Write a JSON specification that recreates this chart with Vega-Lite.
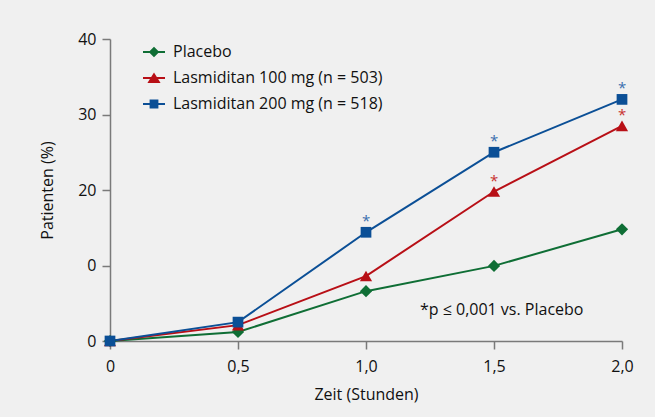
{
  "$schema": "https://vega.github.io/schema/vega-lite/v6.json",
  "width": 512,
  "height": 302,
  "autosize": {"type": "none"},
  "padding": {"left": 110, "top": 39, "right": 33, "bottom": 76},
  "background": "#f0f0f0",
  "config": {
    "view": {"stroke": null},
    "font": "Open Sans",
    "axis": {
      "domainColor": "#7a7a7a",
      "domainWidth": 1.5,
      "tickColor": "#7a7a7a",
      "tickWidth": 1.5,
      "tickSize": 8,
      "labelFontSize": 16,
      "labelColor": "#111111",
      "titleFontSize": 16,
      "titleFontWeight": "normal",
      "titleColor": "#111111",
      "grid": false
    }
  },
  "datasets": {
    "main": [
      {"series": "Placebo", "t": 0, "pct": 0, "sig": false},
      {"series": "Placebo", "t": 0.5, "pct": 1.2, "sig": false},
      {"series": "Placebo", "t": 1.0, "pct": 6.6, "sig": false},
      {"series": "Placebo", "t": 1.5, "pct": 9.95, "sig": false},
      {"series": "Placebo", "t": 2.0, "pct": 14.8, "sig": false},
      {"series": "Lasmiditan 100 mg (n = 503)", "t": 0, "pct": 0, "sig": false},
      {"series": "Lasmiditan 100 mg (n = 503)", "t": 0.5, "pct": 2.1, "sig": false},
      {"series": "Lasmiditan 100 mg (n = 503)", "t": 1.0, "pct": 8.6, "sig": false},
      {"series": "Lasmiditan 100 mg (n = 503)", "t": 1.5, "pct": 19.8, "sig": true},
      {"series": "Lasmiditan 100 mg (n = 503)", "t": 2.0, "pct": 28.5, "sig": true},
      {"series": "Lasmiditan 200 mg (n = 518)", "t": 0, "pct": 0, "sig": false},
      {"series": "Lasmiditan 200 mg (n = 518)", "t": 0.5, "pct": 2.5, "sig": false},
      {"series": "Lasmiditan 200 mg (n = 518)", "t": 1.0, "pct": 14.4, "sig": true},
      {"series": "Lasmiditan 200 mg (n = 518)", "t": 1.5, "pct": 25.0, "sig": true},
      {"series": "Lasmiditan 200 mg (n = 518)", "t": 2.0, "pct": 32.0, "sig": true}
    ],
    "note": [
      {"t": 1.53, "pct": 4.07, "label": "*p ≤ 0,001 vs. Placebo"}
    ]
  },
  "encoding": {
    "x": {
      "field": "t",
      "type": "quantitative",
      "title": "Zeit (Stunden)",
      "scale": {"domain": [0, 2], "nice": false, "zero": false},
      "axis": {
        "values": [0, 0.5, 1, 1.5, 2],
        "labelExpr": "datum.value == 0 ? '0' : replace(format(datum.value, '.1f'), '.', ',')",
        "labelFlush": false,
        "labelPadding": 9,
        "titlePadding": 12
      }
    },
    "y": {
      "field": "pct",
      "type": "quantitative",
      "title": "Patienten (%)",
      "scale": {"domain": [0, 40], "nice": false},
      "axis": {
        "values": [0, 10, 20, 30, 40],
        "labelExpr": "datum.value == 10 ? '0' : datum.label",
        "labelPadding": 6,
        "titlePadding": 22
      }
    }
  },
  "layer": [
    {
      "data": {"name": "main"},
      "transform": [{"filter": "datum.series == 'Placebo'"}],
      "mark": {"type": "line", "strokeWidth": 2, "color": "#0f6e35"}
    },
    {
      "data": {"name": "main"},
      "transform": [{"filter": "datum.series == 'Lasmiditan 100 mg (n = 503)'"}],
      "mark": {"type": "line", "strokeWidth": 2, "color": "#b80f16"}
    },
    {
      "data": {"name": "main"},
      "transform": [{"filter": "datum.series == 'Lasmiditan 200 mg (n = 518)'"}],
      "mark": {"type": "line", "strokeWidth": 2, "color": "#0b4f96"}
    },
    {
      "data": {"name": "main"},
      "transform": [{"filter": "datum.series == 'Placebo'"}],
      "mark": {"type": "point", "shape": "diamond", "filled": true, "opacity": 1, "size": 150, "color": "#0f6e35"}
    },
    {
      "data": {"name": "main"},
      "transform": [{"filter": "datum.series == 'Lasmiditan 100 mg (n = 503)'"}],
      "mark": {"type": "point", "shape": "triangle-up", "filled": true, "opacity": 1, "size": 150, "color": "#b80f16"}
    },
    {
      "data": {"name": "main"},
      "transform": [{"filter": "datum.series == 'Lasmiditan 200 mg (n = 518)'"}],
      "mark": {"type": "point", "shape": "square", "filled": true, "opacity": 1, "size": 115, "color": "#0b4f96"}
    },
    {
      "data": {"name": "main"},
      "transform": [{"filter": "false"}],
      "mark": {"type": "point", "filled": true, "opacity": 1, "size": 484},
      "encoding": {
        "color": {
          "field": "series",
          "type": "nominal",
          "scale": {
            "domain": ["Placebo", "Lasmiditan 100 mg (n = 503)", "Lasmiditan 200 mg (n = 518)"],
            "range": ["#0f6e35", "#b80f16", "#0b4f96"]
          },
          "legend": {
            "orient": "none",
            "legendX": 33,
            "legendY": 2,
            "title": null,
            "padding": 0,
            "symbolSize": 484,
            "symbolOpacity": 1,
            "symbolStrokeWidth": 0,
            "labelFontSize": 16,
            "labelColor": "#111111",
            "labelOffset": 8,
            "rowPadding": 7,
            "labelLimit": 400
          }
        },
        "shape": {
          "field": "series",
          "type": "nominal",
          "scale": {
            "domain": ["Placebo", "Lasmiditan 100 mg (n = 503)", "Lasmiditan 200 mg (n = 518)"],
            "range": [
              "M-1,-0.1H1V0.1H-1Z M0,-0.48L0.48,0L0,0.48L-0.48,0Z",
              "M-1,-0.1H1V0.1H-1Z M0,-0.5L0.6,0.45L-0.6,0.45Z",
              "M-1,-0.1H1V0.1H-1Z M-0.4,-0.4H0.4V0.4H-0.4Z"
            ]
          }
        }
      }
    },
    {
      "data": {"name": "main"},
      "transform": [{"filter": "datum.sig && datum.series == 'Lasmiditan 100 mg (n = 503)'"}],
      "mark": {"type": "text", "text": "*", "fontSize": 15, "baseline": "middle", "dy": -11, "color": "#c8302f"}
    },
    {
      "data": {"name": "main"},
      "transform": [{"filter": "datum.sig && datum.series == 'Lasmiditan 200 mg (n = 518)'"}],
      "mark": {"type": "text", "text": "*", "fontSize": 15, "baseline": "middle", "dy": -11, "color": "#3a6fae"}
    },
    {
      "data": {"name": "note"},
      "mark": {"type": "text", "fontSize": 16, "baseline": "middle", "align": "center", "color": "#111111"},
      "encoding": {"text": {"field": "label"}}
    }
  ]
}
